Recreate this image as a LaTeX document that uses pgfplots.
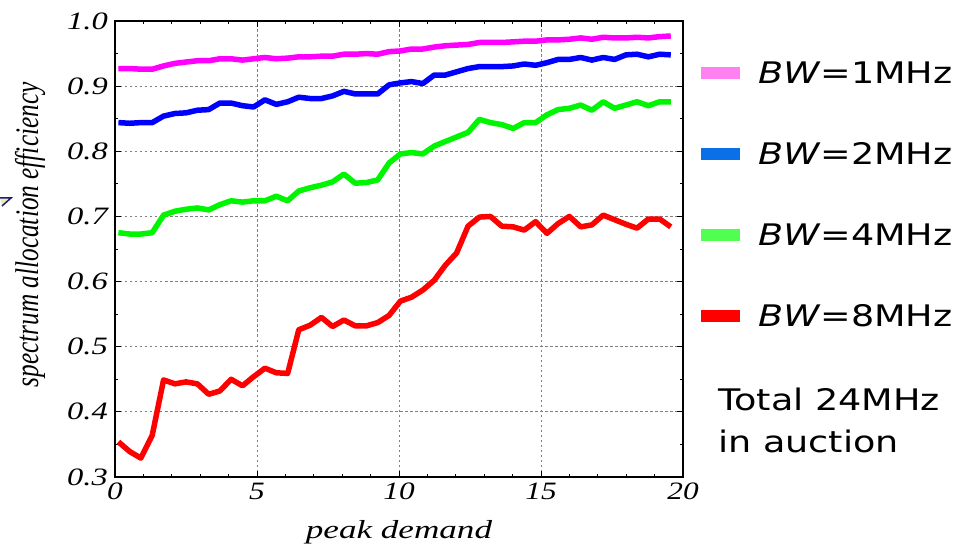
\documentclass[border=0pt]{standalone}
\usepackage{pgfplots}
\pgfplotsset{compat=1.18}
\usepackage{pgfplotstable}
\usepackage{fontspec}
\usepackage{graphicx}
\setmainfont{Liberation Serif}
\newfontfamily\legfont{DejaVu Sans}

\definecolor{cMag}{RGB}{255,0,255}
\definecolor{cBlue}{RGB}{0,0,255}
\definecolor{cGreen}{RGB}{0,245,0}
\definecolor{cRed}{RGB}{255,0,0}
\definecolor{lPink}{RGB}{255,128,240}
\definecolor{lBlue}{RGB}{10,112,232}
\definecolor{lGreen}{RGB}{80,255,80}
\definecolor{navy}{RGB}{30,30,120}

\newcommand{\tickfont}{\fontsize{25}{30}\selectfont\itshape}
\newcommand{\legsize}{\fontsize{29.7}{42}\selectfont}

% peak demand vs efficiency for BW = 1, 2, 4, 8 MHz
\pgfplotstableread{
x     m     b     g     r
0.12  0.927 0.844 0.675 0.354
0.52  0.927 0.843 0.673 0.339
0.91  0.926 0.844 0.673 0.329
1.31  0.926 0.844 0.675 0.364
1.71  0.931 0.854 0.702 0.449
2.11  0.935 0.858 0.708 0.443
2.50  0.937 0.859 0.711 0.446
2.90  0.939 0.863 0.713 0.443
3.30  0.939 0.864 0.710 0.427
3.69  0.942 0.874 0.718 0.432
4.09  0.942 0.874 0.724 0.450
4.49  0.940 0.870 0.722 0.440
4.88  0.942 0.868 0.724 0.454
5.28  0.944 0.879 0.724 0.467
5.68  0.942 0.872 0.731 0.460
6.08  0.943 0.876 0.724 0.459
6.47  0.945 0.883 0.739 0.526
6.87  0.945 0.881 0.744 0.533
7.27  0.946 0.881 0.748 0.545
7.66  0.946 0.885 0.753 0.531
8.06  0.949 0.892 0.765 0.541
8.46  0.949 0.888 0.751 0.532
8.85  0.950 0.888 0.752 0.532
9.25  0.949 0.888 0.756 0.537
9.65  0.953 0.902 0.782 0.548
10.05 0.954 0.905 0.796 0.570
10.44 0.957 0.907 0.798 0.576
10.84 0.957 0.904 0.796 0.587
11.24 0.960 0.917 0.808 0.602
11.63 0.962 0.917 0.815 0.625
12.03 0.963 0.922 0.822 0.644
12.43 0.964 0.927 0.829 0.685
12.83 0.967 0.930 0.849 0.699
13.22 0.967 0.930 0.844 0.700
13.62 0.967 0.930 0.841 0.685
14.02 0.968 0.931 0.835 0.684
14.41 0.969 0.934 0.844 0.679
14.81 0.969 0.932 0.844 0.692
15.21 0.971 0.936 0.856 0.674
15.60 0.971 0.941 0.864 0.689
16.00 0.972 0.941 0.866 0.700
16.40 0.974 0.944 0.871 0.684
16.79 0.972 0.940 0.863 0.687
17.19 0.975 0.944 0.876 0.702
17.59 0.974 0.941 0.866 0.695
17.99 0.974 0.948 0.871 0.688
18.38 0.975 0.949 0.876 0.682
18.78 0.974 0.945 0.870 0.696
19.18 0.976 0.949 0.876 0.696
19.57 0.977 0.948 0.876 0.684
}\effdata

\begin{document}
\begin{tikzpicture}
\path[use as bounding box] (-115pt,-69pt) rectangle (842pt,477pt);
\begin{axis}[
    at={(0pt,0pt)}, anchor=south west,
    scale only axis,
    width=568pt, height=456pt,
    xmin=0, xmax=20, ymin=0.3, ymax=1.0,
    xtick={0,5,10,15,20},
    ytick={0.3,0.4,0.5,0.6,0.7,0.8,0.9,1.0},
    minor x tick num=4, minor y tick num=1,
    tick align=inside,
    major tick length=6pt, minor tick length=3pt,
    every tick/.style={black, line width=0.8pt},
    axis line style={line width=1.6pt},
    grid=major,
    major grid style={gray, dash pattern=on 2.5pt off 2.5pt, line width=0.9pt},
    /pgf/number format/assume math mode=true,
    xticklabel={\scalebox{1.25}[1]{\tickfont\pgfmathprintnumber{\tick}}},
    yticklabel={\scalebox{1.3}[1]{\tickfont\pgfmathprintnumber[fixed,fixed zerofill,precision=1]{\tick}}},
    xticklabel style={anchor=north, inner sep=0pt, yshift=-6pt},
    yticklabel style={anchor=east, inner sep=0pt, xshift=-7pt},
    xlabel={\scalebox{1.35}[1]{\fontsize{26}{30}\selectfont\itshape peak demand}},
    xlabel style={at={(axis description cs:0.5,0)}, anchor=base, yshift=-61pt, inner sep=0pt},
    ylabel={\scalebox{1}[1.3]{\fontsize{25.3}{30}\selectfont\itshape spectrum allocation efficiency}},
    ylabel style={at={(axis description cs:-0.1496,0.531)}, anchor=center, inner sep=0pt},
    legend image code/.code={\draw[#1, line width=12pt] (0pt,0pt) -- (39pt,0pt);},
    legend cell align=left,
    legend style={at={(axis description cs:1.0211,0.9107)}, anchor=north west,
        draw=none, fill=none, inner sep=0pt, row sep=59pt,
        font=\legfont\legsize,
        nodes={inner sep=0pt, text height=22pt, text depth=0pt},
        /tikz/every odd column/.append style={column sep=12pt}},
]
\addplot[cMag, line width=5.5pt, line join=round, forget plot] table[x=x, y=m] {\effdata};
\addplot[cBlue, line width=5.5pt, line join=round, forget plot] table[x=x, y=b] {\effdata};
\addplot[cGreen, line width=5.5pt, line join=round, forget plot] table[x=x, y=g] {\effdata};
\addplot[cRed, line width=5.5pt, line join=round, forget plot] table[x=x, y=r] {\effdata};

\addlegendimage{lPink}
\addlegendentry{\scalebox{1.23}[1]{\textit{BW}=1MHz}}
\addlegendimage{lBlue}
\addlegendentry{\scalebox{1.23}[1]{\textit{BW}=2MHz}}
\addlegendimage{lGreen}
\addlegendentry{\scalebox{1.23}[1]{\textit{BW}=4MHz}}
\addlegendimage{cRed}
\addlegendentry{\scalebox{1.23}[1]{\textit{BW}=8MHz}}
\end{axis}

\node[anchor=base west, align=left, inner sep=0pt, font=\legfont\legsize] at (603pt,25pt)
    {\scalebox{1.23}[1]{Total 24MHz}\\\scalebox{1.23}[1]{in auction}};

\draw[navy, line width=1.5pt, fill={rgb,255:red,235;green,235;blue,190}]
    (-115pt,279pt) -- (-104pt,279pt) -- (-113pt,271pt);
\end{tikzpicture}
\end{document}
